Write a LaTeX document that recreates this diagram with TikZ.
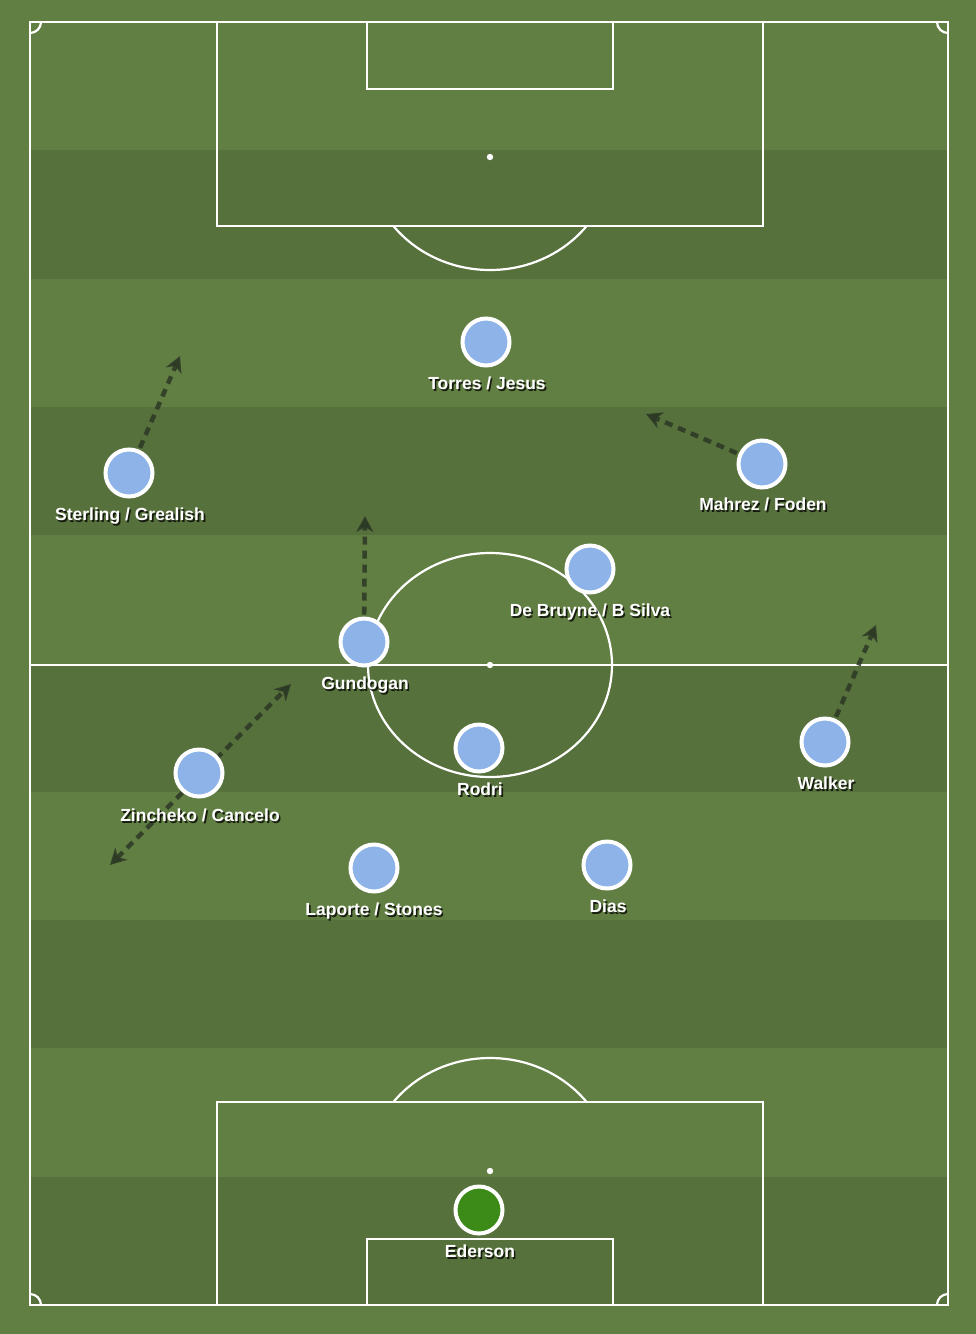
\documentclass[tikz,border=0pt]{standalone}
\usepackage{fontspec}
\setmainfont{Liberation Sans}
\usetikzlibrary{arrows.meta,shadows}
\definecolor{stripeL}{HTML}{627F43}
\definecolor{stripeD}{HTML}{57713D}
\definecolor{playerc}{HTML}{8DB3E9}
\definecolor{keeperc}{HTML}{3C8A17}
\definecolor{runc}{HTML}{2B3824}
\pgfdeclarelayer{pitchlayer}
\pgfdeclarelayer{runlayer}
\pgfsetlayers{pitchlayer,runlayer,main}
\tikzset{
  pline/.style={draw=white,line width=2.2pt},
  player/.style={circle,fill=playerc,draw=white,line width=4pt,minimum size=47pt,inner sep=0pt,
    drop shadow={shadow xshift=1pt,shadow yshift=-1.5pt,opacity=0.35}},
  keeper/.style={player,fill=keeperc},
  plabel/.style={anchor=base,inner sep=0pt,text=white,font=\fontsize{17.5}{20}\selectfont\bfseries},
  plshadow/.style={plabel,text=black,opacity=0.75},
  tipx/.style={},
  run/.style={draw=runc,line width=4.5pt,dash pattern=on 8pt off 6pt,-{Stealth[length=16pt,width=17pt,inset=5pt]},opacity=0.85},
  runboth/.style={run,{Stealth[length=16pt,width=17pt,inset=5pt]}-{Stealth[length=16pt,width=17pt,inset=5pt]}},
}
\newcommand{\plab}[4]{%
  \node[plshadow] (#1S) at (#2+1.6,#3+2) {#4};
  \node[plabel] (#1) at (#2,#3) {#4};}
\begin{document}
\begin{tikzpicture}[x=1pt,y=-1pt]
\begin{pgfonlayer}{pitchlayer}
  \fill[stripeL] (0,0) rectangle (976,1334);
  \foreach \i in {1,3,5,7,9} {
    \fill[stripeD] (30,{22+\i*128.3}) rectangle (948,{22+(\i+1)*128.3});
  }
  % outer lines
  \draw[pline] (30,22) rectangle (948,1305);
  \draw[pline] (30,665) -- (948,665);
  % centre circle and spot
  \draw[pline] (490,665) ellipse [x radius=122,y radius=112];
  \fill[white] (490,665) circle (3.2);
  % top penalty area
  \draw[pline] (217,22) rectangle (763,226);
  \draw[pline] (367,22) rectangle (613,89);
  \fill[white] (490,157) circle (3.2);
  \begin{scope}
    \clip (0,226) rectangle (976,400);
    \draw[pline] (490,157) ellipse [x radius=122,y radius=113];
  \end{scope}
  % bottom penalty area
  \draw[pline] (217,1102) rectangle (763,1305);
  \draw[pline] (367,1239) rectangle (613,1305);
  \fill[white] (490,1171) circle (3.2);
  \begin{scope}
    \clip (0,900) rectangle (976,1102);
    \draw[pline] (490,1171) ellipse [x radius=122,y radius=113];
  \end{scope}
  % corner arcs
  \begin{scope}
    \clip (30,22) rectangle (948,1305);
    \draw[pline] (30,22) circle (11);
    \draw[pline] (948,22) circle (11);
    \draw[pline] (30,1305) circle (11);
    \draw[pline] (948,1305) circle (11);
  \end{scope}
\end{pgfonlayer}
% run targets
\coordinate (sterlingTo) at (180,356);
\coordinate (mahrezTo) at (646,414);
\coordinate (gundoganTo) at (365,516);
\coordinate (walkerTo) at (876,625);
\coordinate (zinchA) at (110,865);
\coordinate (zinchB) at (291,684);
% players
\node[player] (torres) at (486,342) {};
\node[player] (sterling) at (129,473) {};
\node[player] (mahrez) at (762,464) {};
\node[player] (debruyne) at (590,569) {};
\node[player] (gundogan) at (364,642) {};
\node[player] (rodri) at (479,748) {};
\node[player] (walker) at (825,742) {};
\node[player] (zinchenko) at (199,773) {};
\node[player] (laporte) at (374,868) {};
\node[player] (dias) at (607,865) {};
\node[keeper] (ederson) at (479,1210) {};
% labels
\plab{torresL}{487}{389}{Torres / Jesus}
\plab{sterlingL}{130}{520}{Sterling / Grealish}
\plab{mahrezL}{763}{510}{Mahrez / Foden}
\plab{debruyneL}{590}{616}{De Bruyne / B Silva}
\plab{gundoganL}{365}{689}{Gundogan}
\plab{rodriL}{480}{795}{Rodri}
\plab{walkerL}{826}{789}{Walker}
\plab{zinchenkoL}{200}{821}{Zincheko / Cancelo}
\plab{laporteL}{374}{915}{Laporte / Stones}
\plab{diasL}{608}{912}{Dias}
\plab{edersonL}{480}{1257}{Ederson}
% runs
\begin{pgfonlayer}{runlayer}
  \draw[run,shorten <=2pt] (sterling) -- (sterlingTo);
  \draw[run,shorten <=2pt] (mahrez) -- (mahrezTo);
  \draw[run,shorten <=2pt] (gundogan) -- (gundoganTo);
  \draw[run,shorten <=2pt] (walker) -- (walkerTo);
  \draw[runboth] (zinchA) -- (zinchB);
\end{pgfonlayer}
\end{tikzpicture}
\end{document}
